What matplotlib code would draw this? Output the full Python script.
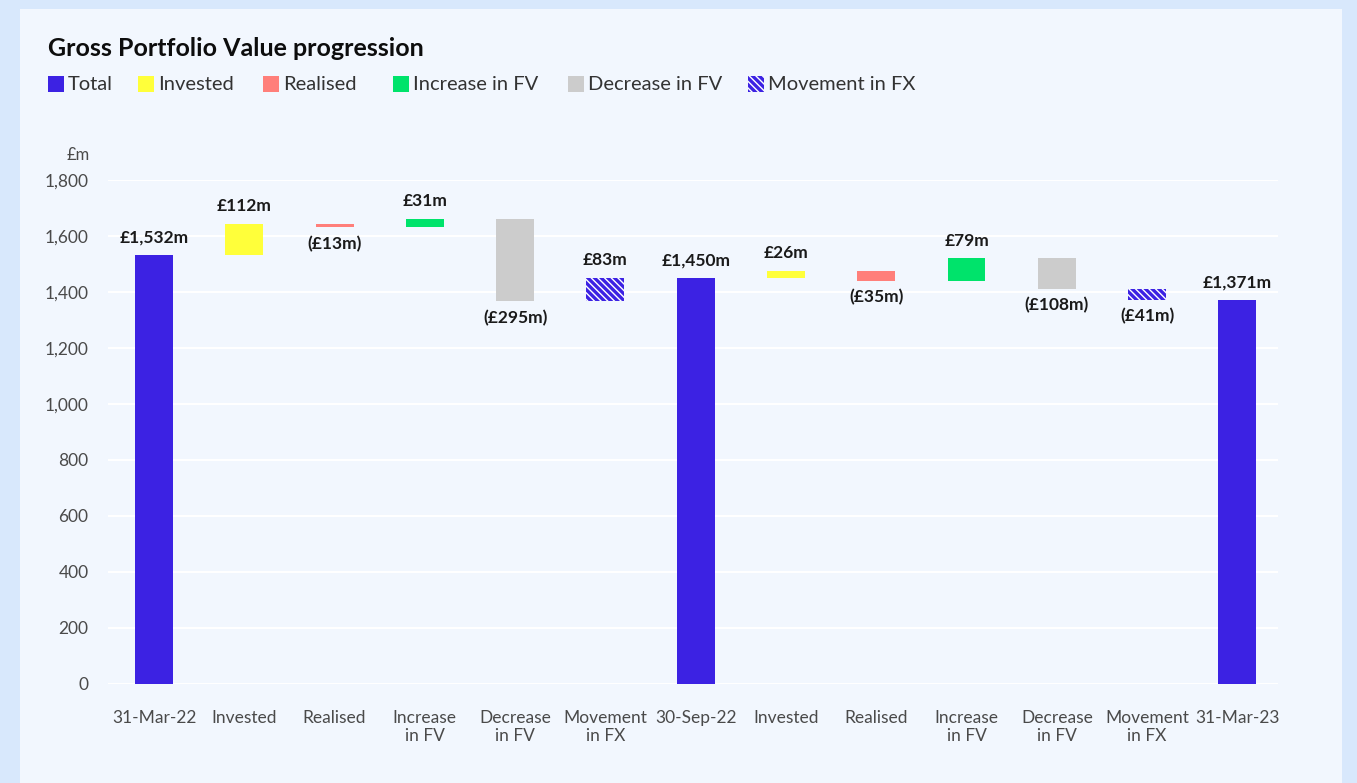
import matplotlib.pyplot as plt
from matplotlib.patches import Rectangle

# data
categories = ["31-Mar-22", "Invested", "Realised", "Increase\nin FV", "Decrease\nin FV",
              "Movement\nin FX", "30-Sep-22", "Invested", "Realised", "Increase\nin FV",
              "Decrease\nin FV", "Movement\nin FX", "31-Mar-23"]
kinds = ["total", "inv", "real", "inc", "dec", "fx", "total",
         "inv", "real", "inc", "dec", "fx", "total"]
values = [1532, 112, -13, 31, -295, 83, 1450, 26, -35, 79, -108, -41, 1371]
yticks = [0, 200, 400, 600, 800, 1000, 1200, 1400, 1600, 1800]

legend_names = ["Total", "Invested", "Realised", "Increase in FV", "Decrease in FV", "Movement in FX"]
legend_kinds = ["total", "inv", "real", "inc", "dec", "fx"]

BLUE = "#3c22e3"
colors = {"total": BLUE, "inv": "#ffff3a", "real": "#ff7f7a",
          "inc": "#00e36b", "dec": "#cccccc", "fx": BLUE}
HATCH = "\\" * 5

OUTER = "#d8e8fc"
PANEL = "#f2f7fe"

plt.rcParams['font.family'] = ['Lato', 'DejaVu Sans']
plt.rcParams['hatch.linewidth'] = 1.0

fig = plt.figure(figsize=(13.57, 7.83), dpi=100)
fig.patch.set_facecolor(OUTER)
W, H = 1357, 783
fig.patches.append(Rectangle((20 / W, 0), (1342 - 20) / W, (783 - 9) / H,
                             transform=fig.transFigure, facecolor=PANEL,
                             edgecolor="none", zorder=-10))

ax = fig.add_axes([108 / W, 99 / H, (1278 - 108) / W, (684 - 180) / H])
ax.set_facecolor(PANEL)

fmt = lambda v: f"£{abs(v):,}m" if v >= 0 else f"(£{abs(v):,}m)"

running = 0
for i, (k, v) in enumerate(zip(kinds, values)):
    if k == "total":
        bottom, height = 0, v
        running = v
        top = v
    else:
        bottom = running if v >= 0 else running + v
        height = abs(v)
        running += v
        top = bottom + height
    if k == "fx":
        ax.bar(i, height, bottom=bottom, width=0.42, facecolor=BLUE, edgecolor="white",
               hatch=HATCH, linewidth=0, zorder=3)
    else:
        ax.bar(i, height, bottom=bottom, width=0.42, color=colors[k], linewidth=0, zorder=3)
    if v >= 0:
        ax.annotate(fmt(v), (i, top), xytext=(0, 7), textcoords="offset points",
                    ha="center", va="bottom", fontsize=12.5, fontweight="bold", color="#1a1a1a")
    else:
        ax.annotate(fmt(v), (i, bottom), xytext=(0, -6), textcoords="offset points",
                    ha="center", va="top", fontsize=12.5, fontweight="bold", color="#1a1a1a")

ax.set_ylim(0, 1800)
ax.set_xlim(-0.51, 12.45)
ax.set_yticks(yticks)
ax.set_yticklabels([f"{t:,}" for t in yticks])
ax.set_xticks(range(len(categories)))
ax.set_xticklabels(categories, linespacing=1.2)
ax.grid(axis="y", color="white", linewidth=1.5, zorder=0)
ax.set_axisbelow(True)
for s in ax.spines.values():
    s.set_visible(False)
ax.tick_params(axis="both", length=0, labelcolor="#4a4a4a", labelsize=12.5)
ax.tick_params(axis="x", pad=18.5)
ax.tick_params(axis="y", pad=14)

fig.text(90 / W, 1 - 155 / H, "£m", ha="right", va="center", fontsize=12, color="#4a4a4a")
fig.text(48 / W, 1 - 48 / H, "Gross Portfolio Value progression", ha="left", va="center",
         fontsize=18, fontweight="bold", color="#0d0d0d")

leg_x = [48, 138, 263, 393, 568, 748]
for x, name, k in zip(leg_x, legend_names, legend_kinds):
    if k == "fx":
        r = Rectangle((x / W, 1 - 92 / H), 16 / W, 16 / H, transform=fig.transFigure,
                      facecolor=BLUE, edgecolor="white", hatch=HATCH, linewidth=0)
    else:
        r = Rectangle((x / W, 1 - 92 / H), 16 / W, 16 / H, transform=fig.transFigure,
                      facecolor=colors[k], edgecolor="none")
    fig.patches.append(r)
    fig.text((x + 20) / W, 1 - 84 / H, name, ha="left", va="center",
             fontsize=14.5, color="#333333")

fig.savefig("out.png", dpi=100, facecolor=fig.get_facecolor())
